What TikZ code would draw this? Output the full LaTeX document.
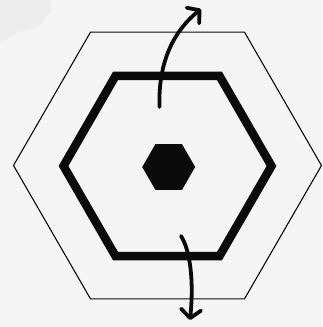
\documentclass[tikz,border=0pt]{standalone}
\usetikzlibrary{arrows.meta,calc}
\definecolor{bg}{HTML}{F5F5F5}
\definecolor{blot}{HTML}{ECECEC}
\definecolor{ink}{HTML}{0A0A0A}
\tikzset{
  thinhex/.style={draw=ink, line width=1.1pt, line join=miter},
  thickhex/.style={draw=ink, line width=8.5pt, line join=miter},
  corehex/.style={fill=ink, draw=none},
  flowarrow/.style={draw=ink, line width=3.8pt, line cap=round,
    -{Straight Barb[length=8.5pt,width=20pt,line width=3.8pt,round]}}
}
\begin{document}
\begin{tikzpicture}[x=1pt,y=-1pt]
  \fill[bg] (0,0) rectangle (322,327);
  \useasboundingbox (0,0) rectangle (322,327);
  \fill[blot] (0,42) .. controls (12,38) and (18,30) .. (28,30) .. controls (38,28) and (44,22) .. (50,12) .. controls (52,6) and (50,2) .. (50,0) -- (0,0) -- cycle;
  % outer thin hexagon
  \begin{scope}[shift={(167.5,165.5)}]
    \draw[thinhex] (0:154) -- (60:154) -- (120:154) -- (180:154) -- (240:154) -- (300:154) -- cycle;
  \end{scope}
  % middle thick hexagon
  \begin{scope}[shift={(167.5,166)}]
    \draw[thickhex] (0:104) -- (60:104) -- (120:104) -- (180:104) -- (240:104) -- (300:104) -- cycle;
  \end{scope}
  % core hexagon
  \begin{scope}[shift={(168.7,167)}]
    \fill[corehex] (0:26.5) -- (60:26.5) -- (120:26.5) -- (180:26.5) -- (240:26.5) -- (300:26.5) -- cycle;
  \end{scope}
  % arrows
  \coordinate (a1s) at (159.5,107);
  \coordinate (a1e) at (201,9);
  \coordinate (a2s) at (181,236);
  \coordinate (a2e) at (190,320);
  \draw[flowarrow] (a1s) .. controls (158,60) and (175,30) .. (a1e);
  \draw[flowarrow] (a2s) .. controls (190,250) and (194,280) .. (a2e);
\end{tikzpicture}
\end{document}
